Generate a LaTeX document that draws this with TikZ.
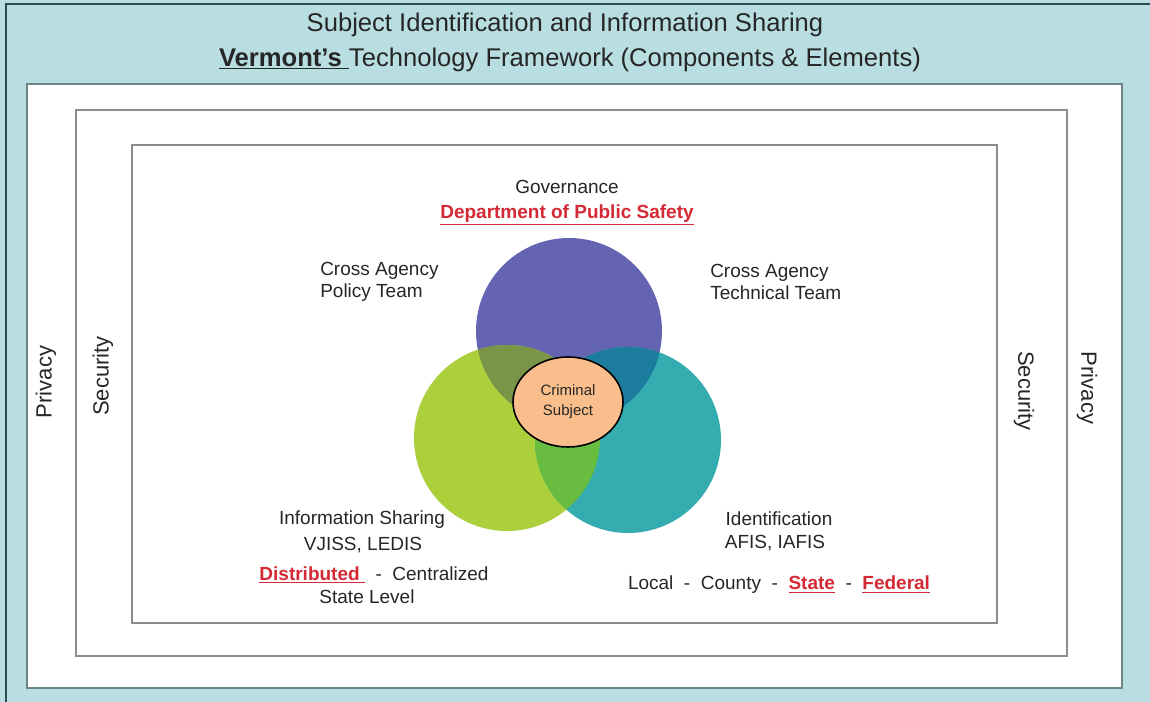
\documentclass[tikz,border=0pt]{standalone}
\usepackage{fontspec}
\setmainfont{Liberation Sans}
\usepackage{xcolor}
\usetikzlibrary{positioning,shapes.geometric}
\definecolor{bgBlue}{HTML}{B9DEE2}
\definecolor{edgeDark}{HTML}{2F4A4C}
\definecolor{outerGray}{HTML}{6E8586}
\definecolor{frameGray}{HTML}{8C8C8C}
\definecolor{govPurple}{HTML}{6464B2}
\definecolor{infoGreen}{HTML}{ACCF3C}
\definecolor{idTeal}{HTML}{34ACB0}
\definecolor{pgMix}{HTML}{7A9448}
\definecolor{ptMix}{HTML}{1C7C9E}
\definecolor{gtMix}{HTML}{68BC40}
\definecolor{subjOrange}{HTML}{F9BE8C}
\definecolor{strongRed}{HTML}{D42A35}
\definecolor{textGray}{HTML}{262626}
\tikzstyle{frameBox} =[draw=frameGray, line width=1.3pt, fill=white]
\tikzstyle{venn}     =[circle, minimum size=139.5pt, inner sep=0pt]
\tikzstyle{txt}      =[text=textGray, inner sep=0pt, font=\fontsize{14.25}{17}\selectfont]
\tikzstyle{titleTxt} =[txt, font=\fontsize{19.2}{23}\selectfont]
\tikzstyle{sideTxt}  =[txt, font=\fontsize{16.5}{19}\selectfont]
\tikzstyle{subjBox}  =[ellipse, draw=black, line width=1.2pt, fill=subjOrange,
                       minimum width=82.5pt, minimum height=67.5pt, inner sep=0pt,
                       align=center, text=textGray, font=\fontsize{11.25}{15}\selectfont]
\newcommand{\vennR}{69.75pt}
\newcommand{\redu}[1]{\textcolor{strongRed}{\underline{\textbf{#1}}}}
\begin{document}
\begin{tikzpicture}[x=0.75pt,y=-0.75pt]
      \useasboundingbox (0,0) rectangle (1150,702);
      \fill[bgBlue] (0,0) rectangle (1150,702);
      \draw[edgeDark, line width=1.5pt] (6,702) -- (6,4) -- (1150,4);
      % frames
      \draw[draw=outerGray, line width=1.5pt, fill=white] (27,84) rectangle (1122,688);
      \draw[frameBox] (76,110) rectangle (1067,656);
      \draw[frameBox] (132,145) rectangle (997,623);
      % heading
      \node[titleTxt] (title) at (565,25) {Subject Identification and Information Sharing};
      \node[titleTxt] (framework) at (570,60) {\underline{\textbf{Vermont’s }}Technology Framework (Components \& Elements)};
      \node[sideTxt, rotate=90] (privL) at (46,382) {Privacy};
      \node[sideTxt, rotate=90] (secL) at (103,376) {Security};
      \node[sideTxt, rotate=-90] (secR) at (1024,391) {Security};
      \node[sideTxt, rotate=-90] (privR) at (1087,388) {Privacy};
      % venn circles
      \node[venn, fill=govPurple] (gov) at (569,331) {};
      \node[venn, fill=infoGreen] (info) at (507,438) {};
      \node[venn, fill=idTeal] (ident) at (628,440) {};
      \begin{scope}
        \clip (gov.center) circle (\vennR);
        \fill[pgMix] (info.center) circle (\vennR);
      \end{scope}
      \begin{scope}
        \clip (gov.center) circle (\vennR);
        \fill[ptMix] (ident.center) circle (\vennR);
      \end{scope}
      \begin{scope}
        \clip (info.center) circle (\vennR);
        \fill[gtMix] (ident.center) circle (\vennR);
      \end{scope}
      \node[subjBox] (subj) at (568,402) {Criminal\\Subject};
      % labels
      \node[txt] (govName) at (567,187) {Governance};
      \node[txt] (dps) [below=8pt of govName] {\redu{Department of Public Safety}};
      \node[txt, align=left, anchor=west] (policy) at (320,282) {Cross Agency\\Policy Team};
      \node[txt, align=left, anchor=west] (tech) at (710,282) {Cross Agency\\Technical Team};
      \node[txt] (infoName) at (362,520) {Information Sharing};
      \node[txt] (infoSys) at (363,545) {VJISS, LEDIS};
      \node[txt] (infoMode) at (374,575) {\redu{Distributed\ }\ \ -\ \ Centralized};
      \node[txt] (infoLevel) at (367,597) {State Level};
      \node[txt] (idName) at (779,519) {Identification};
      \node[txt] (idSys) at (775,543) {AFIS, IAFIS};
      \node[txt] (idLevel) at (779,585) {Local\ \ -\ \ County\ \ -\ \ \redu{State}\ \ -\ \ \redu{Federal}};
    \end{tikzpicture}
\end{document}
